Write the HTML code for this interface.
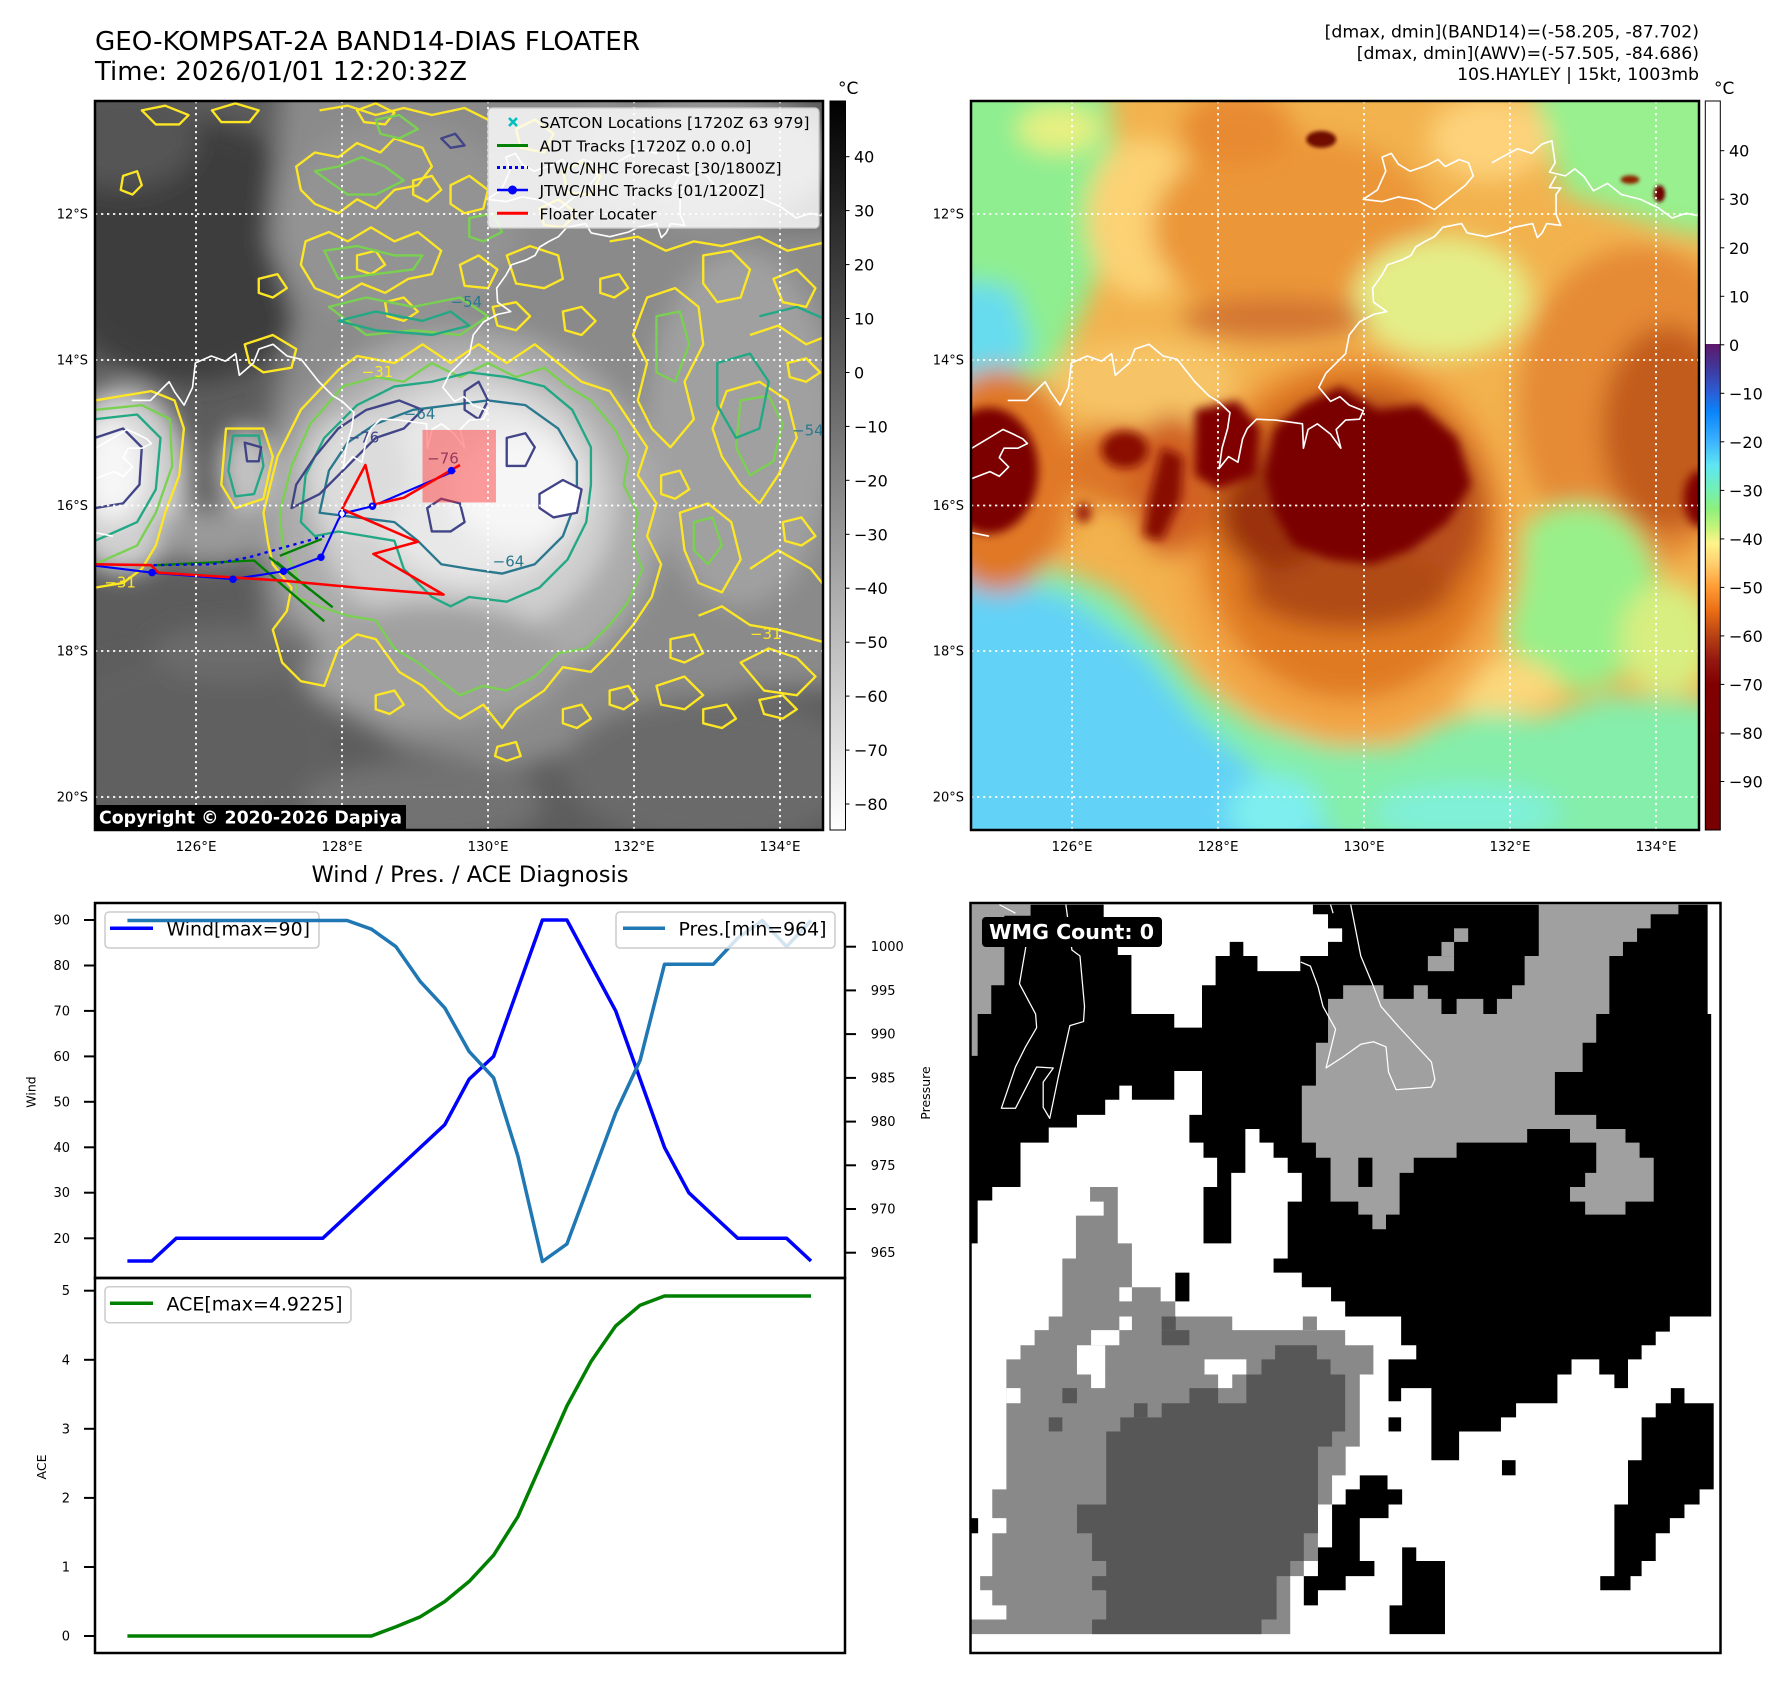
<!DOCTYPE html>
<html><head><meta charset="utf-8"><style>html,body{margin:0;padding:0;background:#fff}svg{display:block}</style></head>
<body>
<svg xmlns="http://www.w3.org/2000/svg" width="1788" height="1690" viewBox="0 0 1788 1690" font-family="'DejaVu Sans','Liberation Sans',sans-serif">
<defs>
<linearGradient id="cbL" x1="0" y1="0" x2="0" y2="1"><stop offset="0" stop-color="#000"/><stop offset="1" stop-color="#fff"/></linearGradient>
<linearGradient id="cbR" x1="0" y1="0" x2="0" y2="1">
<stop offset="0" stop-color="#ffffff"/><stop offset="0.3332" stop-color="#ffffff"/>
<stop offset="0.3334" stop-color="#5e176c"/><stop offset="0.3667" stop-color="#40389c"/>
<stop offset="0.4" stop-color="#2a5ed6"/><stop offset="0.4267" stop-color="#0a84fa"/>
<stop offset="0.4667" stop-color="#3cb2ff"/><stop offset="0.5" stop-color="#5ee6f2"/>
<stop offset="0.5333" stop-color="#72f0b4"/><stop offset="0.56" stop-color="#8ef07c"/>
<stop offset="0.5867" stop-color="#c8f47a"/><stop offset="0.6067" stop-color="#fff48a"/>
<stop offset="0.6333" stop-color="#ffd070"/><stop offset="0.6667" stop-color="#ff9c34"/>
<stop offset="0.7" stop-color="#ea6c14"/><stop offset="0.7333" stop-color="#b84214"/>
<stop offset="0.7667" stop-color="#941810"/><stop offset="0.8" stop-color="#800000"/>
<stop offset="1" stop-color="#780000"/>
</linearGradient>
<filter id="b1" x="-30%" y="-30%" width="160%" height="160%"><feGaussianBlur stdDeviation="26"/></filter>
<filter id="b2" x="-30%" y="-30%" width="160%" height="160%"><feGaussianBlur stdDeviation="10"/></filter>
<filter id="b3" x="-50%" y="-50%" width="200%" height="200%"><feGaussianBlur stdDeviation="4"/></filter>
<g id="coast" fill="none" stroke="#fff" stroke-width="3.5" stroke-linejoin="round">
<path d="M830,210 L860,190 L878,150 L870,120 L890,112 L905,135 L930,150 L965,138 L990,125 L1005,140 L1035,125 L1055,132 L1065,160 L1048,180 L1010,210 L982,232 L945,212 L905,205 L870,215 Z"/>
<path d="M1105,132 L1130,118 L1160,102 L1190,112 L1212,92 L1233,85 L1240,132 L1228,152 L1262,160 L1282,145 L1302,162 L1322,192 L1352,176 L1382,200 L1422,210 L1460,228 L1490,250 L1520,240 L1570,250"/>
<path d="M70,640 L110,640 L150,600 L162,622 L182,650 L200,612 L206,560 L240,545 L270,556 L292,540 L300,586 L330,560 L342,530 L372,520 L402,545 L432,552 L470,600 L500,630 L520,642 L545,666 L540,700 L528,742 L522,785 L542,760 L562,772 L572,722 L582,700 L602,680 L642,682 L700,690 L702,742 L712,702 L732,690 L760,712 L782,742 L772,702 L792,682 L822,680 L830,662 L800,650 L780,632 L760,642 L735,612 L750,582 L772,560 L792,540 L800,500 L822,472 L852,456 L880,450 L852,430 L850,400 L870,372 L882,350 L912,340 L932,330 L942,312 L962,300 L982,290 L1000,270 L1040,262 L1052,282 L1092,290 L1132,280 L1152,270 L1192,262 L1202,292 L1212,282 L1222,262 L1252,266 L1242,242 L1242,200 L1252,186 L1228,185 L1242,160"/>
<path d="M-20,750 L30,720 L60,702 L82,712 L102,722 L112,732 L92,742 L62,742 L52,762 L72,782 L52,802 L32,792 L-20,812"/>
<path d="M-20,920 L30,930"/>
</g>
</defs>
<rect width="1788" height="1690" fill="#fff"/>

<!-- Titles -->
<text x="95" y="50" font-size="25.7" textLength="545" lengthAdjust="spacingAndGlyphs">GEO-KOMPSAT-2A BAND14-DIAS FLOATER</text>
<text x="95" y="80" font-size="25.7" textLength="372" lengthAdjust="spacingAndGlyphs">Time: 2026/01/01 12:20:32Z</text>
<text x="1699" y="37.5" font-size="17.3" text-anchor="end">[dmax, dmin](BAND14)=(-58.205, -87.702)</text>
<text x="1699" y="59" font-size="17.3" text-anchor="end">[dmax, dmin](AWV)=(-57.505, -84.686)</text>
<text x="1699" y="80" font-size="17.3" text-anchor="end">10S.HAYLEY | 15kt, 1003mb</text>

<!-- LEFT MAP -->
<svg x="95" y="101" width="728" height="729" viewBox="0 0 1556 1558" preserveAspectRatio="none">
<rect x="-60" y="-60" width="1700" height="1700" fill="#5c5c5c"/>
<g filter="url(#b1)">
<ellipse cx="200" cy="320" rx="300" ry="280" fill="#3e3e3e"/>
<ellipse cx="60" cy="80" rx="160" ry="110" fill="#555"/>
<path d="M400,-60 L1120,-60 L1160,260 L1640,260 L1640,1250 L1380,1260 L1150,1340 L900,1430 L650,1380 L470,1270 L370,1120 L340,900 L380,640 L430,460 L370,300 L390,80 Z" fill="#8a8a8a"/>
<ellipse cx="650" cy="260" rx="260" ry="220" fill="#939393"/>
<ellipse cx="1380" cy="700" rx="200" ry="380" fill="#a0a0a0"/>
<ellipse cx="1300" cy="120" rx="280" ry="140" fill="#9c9c9c"/>
<ellipse cx="790" cy="880" rx="420" ry="390" fill="#ababab"/>
<ellipse cx="790" cy="860" rx="320" ry="290" fill="#cfcfcf"/>
<ellipse cx="810" cy="830" rx="230" ry="200" fill="#e8e8e8"/>
<ellipse cx="900" cy="830" rx="140" ry="120" fill="#f6f6f6"/>
<ellipse cx="560" cy="800" rx="110" ry="130" fill="#dcdcdc"/>
<ellipse cx="720" cy="1200" rx="280" ry="130" fill="#a0a0a0"/>
<ellipse cx="60" cy="810" rx="140" ry="200" fill="#cfcfcf"/>
<ellipse cx="40" cy="790" rx="70" ry="110" fill="#f6f6f6"/>
<ellipse cx="320" cy="790" rx="55" ry="95" fill="#c2c2c2"/>
<ellipse cx="250" cy="930" rx="120" ry="60" fill="#9a9a9a"/>
<ellipse cx="200" cy="1380" rx="320" ry="200" fill="#606060"/>
<ellipse cx="1320" cy="1430" rx="320" ry="160" fill="#6a6a6a"/>
<ellipse cx="700" cy="1500" rx="260" ry="90" fill="#727272"/>
<ellipse cx="300" cy="1180" rx="180" ry="60" fill="#6c6c6c"/>
</g>
<!-- contours -->
<g fill="none" stroke-width="5" stroke-linejoin="round">
<g stroke="#fde725">
<path d="M370,945 L360,880 L390,760 L440,660 L520,575 L560,545 L640,560 L700,520 L760,560 L820,520 L880,560 L940,520 L990,560 L1040,600 L1100,620 L1140,680 L1180,740 L1160,800 L1200,860 L1180,930 L1210,990 L1190,1060 L1150,1120 L1100,1180 L1060,1220 L1000,1210 L960,1260 L900,1300 L870,1340 L830,1290 L780,1320 L750,1300 L700,1250 L650,1220 L600,1150 L560,1140 L520,1170 L490,1250 L440,1240 L400,1200 L380,1130 L410,1090 L420,1040 L380,990 Z"/>
<path d="M430,140 L470,110 L520,120 L560,90 L610,110 L640,80 L700,100 L720,140 L690,180 L640,190 L600,230 L560,210 L520,240 L470,220 L440,190 Z"/>
<path d="M450,300 L500,280 L540,300 L590,270 L640,300 L690,280 L740,320 L720,370 L670,380 L620,410 L570,390 L520,420 L470,400 L440,350 Z"/>
<path d="M760,180 L800,160 L840,190 L830,230 L790,240 L760,220 Z"/>
<path d="M880,330 L930,310 L990,330 L1000,380 L960,400 L900,390 Z"/>
<path d="M1180,420 L1240,400 L1290,440 L1300,520 L1260,600 L1280,680 L1230,740 L1190,700 L1160,640 L1180,560 L1150,500 Z"/>
<path d="M1300,330 L1360,320 L1400,360 L1380,420 L1330,430 L1300,390 Z"/>
<path d="M1400,500 L1460,480 L1520,520 L1570,500"/>
<path d="M1350,620 L1420,600 L1480,640 L1500,720 L1460,800 L1420,860 L1380,820 L1340,760 L1320,700 Z"/>
<path d="M1250,880 L1310,860 L1360,900 L1380,980 L1340,1050 L1290,1030 L1260,960 Z"/>
<path d="M1400,1000 L1460,960 L1530,1000 L1570,1050"/>
<path d="M1380,1200 L1440,1170 L1500,1190 L1540,1230 L1500,1270 L1430,1260 Z"/>
<path d="M1200,1250 L1260,1230 L1300,1270 L1260,1300 L1210,1290 Z"/>
<path d="M60,160 L90,150 L100,180 L80,200 L55,190 Z"/>
<path d="M320,520 L380,500 L430,530 L420,570 L360,580 L330,560 Z"/>
<path d="M100,20 L150,10 L200,30 L180,50 L130,50 Z"/>
<path d="M1100,300 L1160,290 L1220,320 L1280,300 L1340,310 L1420,290 L1480,320 L1570,300"/>
<path d="M0,640 L60,630 L120,620 L170,640 L190,700 L180,800 L150,880 L130,950 L100,1000 L60,1030 L0,1040"/>
<path d="M280,700 L360,700 L380,760 L360,850 L300,870 L270,820 Z"/>
<path d="M480,20 L540,10 L600,30 L660,15 L720,30 L790,15 L840,40"/>
<path d="M1290,1100 L1340,1080 L1400,1120 L1460,1130 L1570,1160"/>
<path d="M560,20 L600,5 L640,25 L620,50 L575,45 Z"/>
<path d="M250,20 L300,5 L350,20 L330,45 L270,45 Z"/>
<path d="M680,170 L720,160 L740,190 L710,215 L680,200 Z"/>
<path d="M900,60 L940,40 L980,70 L960,110 L910,100 Z"/>
<path d="M1000,150 L1040,130 L1080,160 L1060,200 L1010,195 Z"/>
<path d="M950,230 L990,210 L1030,240 L1000,270 L960,265 Z"/>
<path d="M560,330 L600,320 L620,350 L590,370 L560,360 Z"/>
<path d="M780,350 L820,330 L860,360 L840,400 L790,395 Z"/>
<path d="M1000,450 L1040,440 L1070,470 L1040,500 L1005,490 Z"/>
<path d="M350,380 L390,370 L410,400 L380,420 L350,410 Z"/>
<path d="M1450,380 L1500,360 L1540,400 L1520,440 L1470,430 Z"/>
<path d="M1230,1150 L1280,1140 L1300,1180 L1260,1200 L1230,1190 Z"/>
<path d="M1000,1300 L1040,1290 L1060,1320 L1030,1340 L1000,1330 Z"/>
<path d="M1100,1260 L1140,1250 L1160,1280 L1130,1300 L1100,1290 Z"/>
<path d="M600,1270 L640,1260 L660,1290 L630,1310 L600,1300 Z"/>
<path d="M860,1380 L900,1370 L910,1400 L880,1410 L855,1400 Z"/>
<path d="M1300,1300 L1350,1290 L1370,1320 L1340,1340 L1300,1330 Z"/>
<path d="M1420,1280 L1470,1270 L1500,1300 L1470,1320 L1430,1310 Z"/>
<path d="M620,430 L660,420 L690,450 L660,470 L625,460 Z"/>
<path d="M850,440 L900,430 L930,460 L900,490 L860,480 Z"/>
<path d="M1080,380 L1120,370 L1140,400 L1110,420 L1080,410 Z"/>
<path d="M1480,560 L1520,550 L1550,580 L1520,600 L1485,590 Z"/>
<path d="M1210,800 L1250,790 L1270,830 L1240,850 L1210,840 Z"/>
<path d="M1470,900 L1510,890 L1540,930 L1510,950 L1475,940 Z"/>
</g>
<g stroke="#7ad151">
<path d="M400,940 L395,880 L420,780 L460,690 L530,610 L600,590 L660,600 L720,560 L780,590 L840,560 L900,590 L960,570 L1010,610 L1060,640 L1110,700 L1140,760 L1130,820 L1160,880 L1150,950 L1170,1000 L1140,1070 L1100,1120 L1050,1170 L990,1180 L940,1230 L880,1260 L830,1250 L780,1270 L740,1240 L690,1200 L640,1170 L600,1110 L540,1100 L480,1080 L430,1060 L430,1010 L410,970 Z"/>
<path d="M470,150 L520,140 L570,120 L620,140 L660,170 L600,200 L540,200 Z"/>
<path d="M490,320 L560,310 L640,330 L700,330 L680,360 L600,370 L520,380 Z"/>
<path d="M500,440 L580,420 L680,440 L780,420 L840,460 L780,500 L680,490 L580,500 Z"/>
<path d="M0,660 L100,650 L160,680 L165,780 L130,880 L90,950 L0,990"/>
<path d="M1380,640 L1440,630 L1470,690 L1450,770 L1400,800 L1370,740 Z"/>
<path d="M1200,460 L1250,450 L1270,520 L1240,600 L1200,580 Z"/>
<path d="M600,40 L650,30 L690,60 L650,80 L610,70 Z"/>
<path d="M800,250 L850,240 L870,280 L830,300 L800,290 Z"/>
<path d="M1280,900 L1320,890 L1340,950 L1310,990 L1280,960 Z"/>
</g>
<g stroke="#22a884">
<path d="M440,900 L450,800 L490,720 L560,650 L640,610 L720,600 L800,580 L880,590 L960,610 L1020,660 L1060,740 L1060,820 L1050,900 L1010,980 L950,1040 L880,1070 L800,1060 L760,1080 L720,1060 L660,1000 L640,940 L580,930 L520,920 L470,930 Z"/>
<path d="M0,680 L90,670 L140,720 L130,830 L90,900 L0,940"/>
<path d="M295,715 L350,715 L360,780 L340,840 L300,845 L285,790 Z"/>
<path d="M1330,560 L1400,540 L1440,600 L1420,700 L1370,720 L1330,650 Z"/>
<path d="M1420,460 L1500,440 L1570,470"/>
<path d="M520,470 L600,450 L700,470 L760,450 L800,480 L720,500 L600,490 Z"/>
</g>
<g stroke="#2a788e">
<path d="M480,880 L500,790 L540,730 L600,690 L680,660 L760,650 L840,640 L920,650 L990,700 L1030,770 L1030,850 L1000,930 L940,990 L870,1010 L800,1000 L740,990 L690,940 L640,900 L560,890 Z"/>
</g>
<g stroke="#414487">
<path d="M420,870 L430,820 L470,760 L520,700 L580,660 L650,640 L700,660 L660,700 L600,720 L560,760 L520,800 L480,840 Z"/>
<path d="M710,870 L740,850 L780,860 L790,900 L760,920 L720,920 Z"/>
<path d="M880,720 L920,710 L940,740 L920,780 L880,780 Z"/>
<path d="M950,840 L1000,810 L1040,830 L1030,880 L980,890 L950,870 Z" fill="#fff"/>
<path d="M790,620 L820,600 L840,640 L820,680 L790,660 Z"/>
<path d="M0,720 L60,700 L100,740 L95,820 L60,860 L0,870"/>
<path d="M320,730 L355,740 L350,770 L325,770 Z"/>
<path d="M740,80 L770,70 L790,95 L760,100 Z"/>
</g>
</g>
<g font-size="32" fill="#fde725"><text x="570" y="590">−31</text><text x="1400" y="1150">−31</text><text x="20" y="1040">−31</text></g>
<g font-size="32" fill="#2a788e"><text x="660" y="680">−64</text><text x="850" y="995">−64</text><text x="1490" y="715">−54</text><text x="760" y="440">−54</text></g>
<g font-size="32" fill="#414487"><text x="540" y="730">−76</text><text x="710" y="775">−76</text></g>
<use href="#coast" transform="translate(8.5,0)"/>
<rect x="700" y="703" width="157" height="155" fill="#ff2a2a" fill-opacity="0.45"/>
<!-- tracks -->
<g fill="none" stroke-linejoin="round">
<polyline points="130,992 340,982 490,1112" stroke="#008000" stroke-width="5"/>
<polyline points="372,975 508,1082" stroke="#008000" stroke-width="5"/>
<polyline points="395,972 485,936" stroke="#008000" stroke-width="5"/>
<polyline points="388,985 460,1045" stroke="#008000" stroke-width="5"/>
<polyline points="125,992 250,990 330,975 400,955 490,930" stroke="#0000ff" stroke-width="5" stroke-dasharray="7 9"/>
<polyline points="0,993 122,1008 295,1022 403,1005 483,975 520,895 528,882 593,866 770,790" stroke="#0000ff" stroke-width="4.5"/>
<polyline points="0,990 120,992 135,1008 400,1025 560,1040 745,1055 595,968 690,942 528,872 578,778 598,862 660,848 780,778" stroke="#ff0000" stroke-width="5.5"/>
</g>
<g fill="#0000ff"><circle cx="122" cy="1008" r="8"/><circle cx="295" cy="1022" r="8"/><circle cx="403" cy="1005" r="8"/><circle cx="483" cy="975" r="8"/><circle cx="528" cy="882" r="7" fill="#fff" stroke="#0000ff" stroke-width="3"/><circle cx="593" cy="866" r="8"/><circle cx="762" cy="790" r="8"/></g>
</svg>

<!-- Left map gridlines -->
<g stroke="#fff" stroke-width="1.8" stroke-dasharray="2.3 3.7">
<line x1="196" y1="101" x2="196" y2="830"/><line x1="342" y1="101" x2="342" y2="830"/><line x1="488" y1="101" x2="488" y2="830"/><line x1="634" y1="101" x2="634" y2="830"/><line x1="780" y1="101" x2="780" y2="830"/>
<line x1="95" y1="214" x2="823" y2="214"/><line x1="95" y1="360" x2="823" y2="360"/><line x1="95" y1="505.5" x2="823" y2="505.5"/><line x1="95" y1="651" x2="823" y2="651"/><line x1="95" y1="797" x2="823" y2="797"/>
</g>
<!-- legend -->
<rect x="488" y="108" width="331" height="120" rx="4" fill="#fff" fill-opacity="0.82" stroke="#cccccc" stroke-width="1.2"/>
<g stroke="#00bfbf" stroke-width="2.6"><line x1="509" y1="118" x2="517" y2="126"/><line x1="517" y1="118" x2="509" y2="126"/></g>
<line x1="497" y1="145.5" x2="528" y2="145.5" stroke="#008000" stroke-width="3"/>
<line x1="497" y1="167.5" x2="528" y2="167.5" stroke="#0000ff" stroke-width="3" stroke-dasharray="3 3"/>
<line x1="497" y1="190" x2="528" y2="190" stroke="#0000ff" stroke-width="2.5"/><circle cx="512.5" cy="190" r="4.5" fill="#0000ff"/>
<line x1="497" y1="213.3" x2="528" y2="213.3" stroke="#ff0000" stroke-width="3"/>
<g font-size="15.5">
<text x="539.5" y="128" textLength="270" lengthAdjust="spacingAndGlyphs">SATCON Locations [1720Z 63 979]</text>
<text x="539.5" y="151.5">ADT Tracks [1720Z 0.0 0.0]</text>
<text x="539.5" y="173.5">JTWC/NHC Forecast [30/1800Z]</text>
<text x="539.5" y="196">JTWC/NHC Tracks [01/1200Z]</text>
<text x="539.5" y="219.5">Floater Locater</text>
</g>
<!-- copyright -->
<rect x="95" y="805" width="311" height="25" fill="#000"/>
<text x="99" y="823.5" font-size="17.4" font-weight="bold" fill="#fff" textLength="303" lengthAdjust="spacingAndGlyphs">Copyright © 2020-2026 Dapiya</text>
<rect x="95" y="101" width="728" height="729" fill="none" stroke="#000" stroke-width="2.5"/>

<!-- left colorbar -->
<rect x="830" y="101" width="15.5" height="729" fill="url(#cbL)" stroke="#000" stroke-width="1"/>
<text x="838" y="94" font-size="17">°C</text>
<g stroke="#000" stroke-width="1"><line x1="845.5" y1="156.7" x2="849.5" y2="156.7"/><line x1="845.5" y1="210.6" x2="849.5" y2="210.6"/><line x1="845.5" y1="264.6" x2="849.5" y2="264.6"/><line x1="845.5" y1="318.5" x2="849.5" y2="318.5"/><line x1="845.5" y1="372.5" x2="849.5" y2="372.5"/><line x1="845.5" y1="426.4" x2="849.5" y2="426.4"/><line x1="845.5" y1="480.3" x2="849.5" y2="480.3"/><line x1="845.5" y1="534.3" x2="849.5" y2="534.3"/><line x1="845.5" y1="588.2" x2="849.5" y2="588.2"/><line x1="845.5" y1="642.2" x2="849.5" y2="642.2"/><line x1="845.5" y1="696.1" x2="849.5" y2="696.1"/><line x1="845.5" y1="750.1" x2="849.5" y2="750.1"/><line x1="845.5" y1="804" x2="849.5" y2="804"/></g>
<g font-size="16">
<text x="854" y="162.7">40</text><text x="854" y="216.6">30</text><text x="854" y="270.6">20</text><text x="854" y="324.5">10</text><text x="854" y="378.5">0</text><text x="854" y="432.4">−10</text><text x="854" y="486.3">−20</text><text x="854" y="540.3">−30</text><text x="854" y="594.2">−40</text><text x="854" y="648.2">−50</text><text x="854" y="702.1">−60</text><text x="854" y="756.1">−70</text><text x="854" y="810">−80</text>
</g>

<!-- RIGHT MAP -->
<svg x="971" y="101" width="728" height="729" viewBox="-8.5 0 1556 1558" preserveAspectRatio="none">
<rect x="-60" y="-60" width="1700" height="1700" fill="#f2b24e"/>
<g filter="url(#b1)">
<path d="M-60,-60 L280,-60 L300,100 L240,240 L280,330 L230,450 L180,560 L100,630 L-60,660 Z" fill="#8eee90"/>
<ellipse cx="180" cy="60" rx="90" ry="50" fill="#e8f080"/>
<path d="M-60,380 L80,400 L120,520 L60,640 L-60,660 Z" fill="#66dcee"/>
<ellipse cx="360" cy="250" rx="120" ry="170" fill="#fcd274"/>
<ellipse cx="680" cy="270" rx="300" ry="200" fill="#eb9638"/>
<ellipse cx="560" cy="60" rx="120" ry="80" fill="#e88a32"/>
<path d="M1180,-60 L1640,-60 L1640,300 L1500,280 L1380,240 L1260,200 L1220,80 Z" fill="#98f08e"/>
<ellipse cx="1100" cy="80" rx="130" ry="90" fill="#fdd27a"/>
<ellipse cx="1000" cy="420" rx="190" ry="130" fill="#e4ee88"/>
<ellipse cx="360" cy="600" rx="200" ry="90" fill="#f6c466"/>
<ellipse cx="640" cy="465" rx="200" ry="45" fill="#d27430"/>
<ellipse cx="1420" cy="650" rx="260" ry="340" fill="#e58a34"/>
<ellipse cx="1480" cy="700" rx="140" ry="220" fill="#c25c1c"/>
<path d="M-60,960 L150,990 L300,1050 L400,1150 L480,1250 L600,1330 L760,1380 L900,1380 L1000,1330 L1100,1300 L1200,1320 L1350,1270 L1640,1290 L1640,1640 L-60,1640 Z" fill="#84eeaa"/>
<path d="M-60,990 L200,1060 L360,1180 L470,1320 L600,1430 L720,1520 L800,1640 L-60,1640 Z" fill="#62d2f6"/>
<ellipse cx="640" cy="1520" rx="100" ry="80" fill="#7eeeee"/>
<ellipse cx="1050" cy="1520" rx="200" ry="60" fill="#80f0d8"/>
<ellipse cx="1290" cy="1060" rx="170" ry="200" fill="#98f08a"/>
<ellipse cx="1480" cy="1150" rx="100" ry="120" fill="#d8ee80"/>
<ellipse cx="1120" cy="1250" rx="130" ry="60" fill="#fbd87c"/>
<ellipse cx="800" cy="950" rx="370" ry="420" fill="#f2a444"/>
<ellipse cx="800" cy="920" rx="320" ry="360" fill="#e07a24"/>
<ellipse cx="820" cy="870" rx="270" ry="250" fill="#b8501a"/>
<ellipse cx="800" cy="1040" rx="220" ry="90" fill="#b04c18"/>
<ellipse cx="640" cy="880" rx="120" ry="120" fill="#9a3010"/>
<ellipse cx="50" cy="810" rx="160" ry="240" fill="#e07828"/>
<ellipse cx="300" cy="780" rx="100" ry="90" fill="#dc7426"/>
<ellipse cx="420" cy="820" rx="90" ry="150" fill="#d06020"/>
</g>
<g filter="url(#b2)">
<path d="M640,700 L700,650 L780,610 L860,660 L950,650 L1030,720 L1060,820 L1010,900 L930,960 L850,990 L760,980 L680,950 L640,880 L620,800 Z" fill="#7a0000"/>
<path d="M470,660 L560,640 L610,700 L600,800 L520,830 L470,800 Z" fill="#800000"/>
<path d="M400,740 L445,760 L440,850 L400,940 L360,930 L372,850 Z" fill="#880800"/>
<ellipse cx="30" cy="790" rx="105" ry="135" fill="#7c0000"/>
<ellipse cx="320" cy="745" rx="50" ry="40" fill="#8a0a00"/>
<ellipse cx="232" cy="880" rx="18" ry="22" fill="#a02808"/>
<ellipse cx="1550" cy="850" rx="35" ry="60" fill="#800000"/>
</g>
<g filter="url(#b3)">
<ellipse cx="740" cy="82" rx="32" ry="18" fill="#700800"/>
<ellipse cx="1400" cy="168" rx="20" ry="9" fill="#902000"/>
<ellipse cx="1463" cy="198" rx="12" ry="18" fill="#700000"/>
</g>
<use href="#coast"/>
</svg>
<g stroke="#fff" stroke-width="1.8" stroke-dasharray="2.3 3.7">
<line x1="1072" y1="101" x2="1072" y2="830"/><line x1="1218" y1="101" x2="1218" y2="830"/><line x1="1364" y1="101" x2="1364" y2="830"/><line x1="1510" y1="101" x2="1510" y2="830"/><line x1="1656" y1="101" x2="1656" y2="830"/>
<line x1="971" y1="214" x2="1699" y2="214"/><line x1="971" y1="360" x2="1699" y2="360"/><line x1="971" y1="505.5" x2="1699" y2="505.5"/><line x1="971" y1="651" x2="1699" y2="651"/><line x1="971" y1="797" x2="1699" y2="797"/>
</g>
<rect x="971" y="101" width="728" height="729" fill="none" stroke="#000" stroke-width="2.5"/>

<!-- right colorbar -->
<rect x="1705.3" y="101" width="15" height="729" fill="url(#cbR)" stroke="#000" stroke-width="1"/>
<text x="1714" y="94" font-size="17">°C</text>
<g stroke="#000" stroke-width="1"><line x1="1720.3" y1="150.7" x2="1724.3" y2="150.7"/><line x1="1720.3" y1="199.2" x2="1724.3" y2="199.2"/><line x1="1720.3" y1="247.8" x2="1724.3" y2="247.8"/><line x1="1720.3" y1="296.3" x2="1724.3" y2="296.3"/><line x1="1720.3" y1="344.8" x2="1724.3" y2="344.8"/><line x1="1720.3" y1="393.3" x2="1724.3" y2="393.3"/><line x1="1720.3" y1="441.8" x2="1724.3" y2="441.8"/><line x1="1720.3" y1="490.4" x2="1724.3" y2="490.4"/><line x1="1720.3" y1="538.9" x2="1724.3" y2="538.9"/><line x1="1720.3" y1="587.4" x2="1724.3" y2="587.4"/><line x1="1720.3" y1="635.9" x2="1724.3" y2="635.9"/><line x1="1720.3" y1="684.4" x2="1724.3" y2="684.4"/><line x1="1720.3" y1="733" x2="1724.3" y2="733"/><line x1="1720.3" y1="781.5" x2="1724.3" y2="781.5"/></g>
<g font-size="16">
<text x="1729" y="156.7">40</text><text x="1729" y="205.2">30</text><text x="1729" y="253.8">20</text><text x="1729" y="302.3">10</text><text x="1729" y="350.8">0</text><text x="1729" y="399.3">−10</text><text x="1729" y="447.8">−20</text><text x="1729" y="496.4">−30</text><text x="1729" y="544.9">−40</text><text x="1729" y="593.4">−50</text><text x="1729" y="641.9">−60</text><text x="1729" y="690.4">−70</text><text x="1729" y="739">−80</text><text x="1729" y="787.5">−90</text>
</g>

<!-- map tick labels -->
<g font-size="13" text-anchor="end">
<text x="88" y="218.7">12°S</text><text x="88" y="364.7">14°S</text><text x="88" y="510.2">16°S</text><text x="88" y="655.7">18°S</text><text x="88" y="801.7">20°S</text>
<text x="964" y="218.7">12°S</text><text x="964" y="364.7">14°S</text><text x="964" y="510.2">16°S</text><text x="964" y="655.7">18°S</text><text x="964" y="801.7">20°S</text>
</g>
<g font-size="13.5" text-anchor="middle">
<text x="196" y="851">126°E</text><text x="342" y="851">128°E</text><text x="488" y="851">130°E</text><text x="634" y="851">132°E</text><text x="780" y="851">134°E</text>
<text x="1072" y="851">126°E</text><text x="1218" y="851">128°E</text><text x="1364" y="851">130°E</text><text x="1510" y="851">132°E</text><text x="1656" y="851">134°E</text>
</g>

<!-- BOTTOM LEFT CHARTS -->
<text x="311.5" y="882" font-size="22" textLength="317" lengthAdjust="spacingAndGlyphs">Wind / Pres. / ACE Diagnosis</text>
<polyline fill="none" stroke="#0000ff" stroke-width="3.5" stroke-linejoin="round" points="127.4,1261 151.8,1261 176.2,1238.3 200.6,1238.3 225.1,1238.3 249.5,1238.3 273.9,1238.3 298.3,1238.3 322.7,1238.3 347.1,1215.6 371.5,1192.8 396,1170.1 420.4,1147.4 444.8,1124.6 469.2,1079.1 493.6,1056.4 518,988.2 542.4,920 566.9,920 591.3,965.5 615.7,1010.9 640.1,1079.1 664.5,1147.4 688.9,1192.8 713.3,1215.6 737.8,1238.3 762.2,1238.3 786.6,1238.3 811,1261"/>
<rect x="105" y="912" width="214" height="36" rx="4" fill="#fff" fill-opacity="0.8" stroke="#cccccc" stroke-width="1.5"/>
<line x1="110" y1="928.3" x2="153" y2="928.3" stroke="#0000ff" stroke-width="3.5"/>
<text x="166.5" y="935.7" font-size="18.7" textLength="143.5" lengthAdjust="spacingAndGlyphs">Wind[max=90]</text>
<polyline fill="none" stroke="#1f77b4" stroke-width="3.5" stroke-linejoin="round" points="127.4,920.5 151.8,920.5 176.2,920.5 200.6,920.5 225.1,920.5 249.5,920.5 273.9,920.5 298.3,920.5 322.7,920.5 347.1,920.5 371.5,929.2 396,946.7 420.4,981.7 444.8,1007.9 469.2,1051.6 493.6,1077.8 518,1156.5 542.4,1261.5 566.9,1244 591.3,1178.4 615.7,1112.8 640.1,1060.4 664.5,964.2 688.9,964.2 713.3,964.2 737.8,938 762.2,920.5 786.6,946.7 811,920.5"/>
<rect x="616" y="912" width="219" height="36" rx="4" fill="#fff" fill-opacity="0.8" stroke="#cccccc" stroke-width="1.5"/>
<line x1="623" y1="928.3" x2="665" y2="928.3" stroke="#1f77b4" stroke-width="3.5"/>
<text x="678.5" y="935.7" font-size="18.7" textLength="148" lengthAdjust="spacingAndGlyphs">Pres.[min=964]</text>
<rect x="95" y="903" width="750" height="375" fill="none" stroke="#000" stroke-width="2.5"/>
<!-- ticks -->
<g stroke="#000" stroke-width="2"><line x1="84" y1="920" x2="95" y2="920"/><line x1="84" y1="965.5" x2="95" y2="965.5"/><line x1="84" y1="1010.9" x2="95" y2="1010.9"/><line x1="84" y1="1056.4" x2="95" y2="1056.4"/><line x1="84" y1="1101.8" x2="95" y2="1101.8"/><line x1="84" y1="1147.3" x2="95" y2="1147.3"/><line x1="84" y1="1192.7" x2="95" y2="1192.7"/><line x1="84" y1="1238.3" x2="95" y2="1238.3"/>
<line x1="845" y1="946.7" x2="856" y2="946.7"/><line x1="845" y1="990.4" x2="856" y2="990.4"/><line x1="845" y1="1034.1" x2="856" y2="1034.1"/><line x1="845" y1="1077.9" x2="856" y2="1077.9"/><line x1="845" y1="1121.6" x2="856" y2="1121.6"/><line x1="845" y1="1165.3" x2="856" y2="1165.3"/><line x1="845" y1="1209" x2="856" y2="1209"/><line x1="845" y1="1252.7" x2="856" y2="1252.7"/>
<line x1="84" y1="1636" x2="95" y2="1636"/><line x1="84" y1="1567" x2="95" y2="1567"/><line x1="84" y1="1497.9" x2="95" y2="1497.9"/><line x1="84" y1="1428.8" x2="95" y2="1428.8"/><line x1="84" y1="1359.8" x2="95" y2="1359.8"/><line x1="84" y1="1290.7" x2="95" y2="1290.7"/></g>
<g font-size="13" text-anchor="end">
<text x="70" y="924.5">90</text><text x="70" y="970">80</text><text x="70" y="1015.4">70</text><text x="70" y="1060.9">60</text><text x="70" y="1106.3">50</text><text x="70" y="1151.8">40</text><text x="70" y="1197.2">30</text><text x="70" y="1242.8">20</text>
<text x="70" y="1640.5">0</text><text x="70" y="1571.5">1</text><text x="70" y="1502.4">2</text><text x="70" y="1433.3">3</text><text x="70" y="1364.3">4</text><text x="70" y="1295.2">5</text>
</g>
<g font-size="13">
<text x="870.7" y="951.2">1000</text><text x="870.7" y="994.9">995</text><text x="870.7" y="1038.6">990</text><text x="870.7" y="1082.4">985</text><text x="870.7" y="1126.1">980</text><text x="870.7" y="1169.8">975</text><text x="870.7" y="1213.5">970</text><text x="870.7" y="1257.2">965</text>
</g>
<g font-size="12.5" text-anchor="middle">
<text transform="translate(35.5,1092) rotate(-90)">Wind</text>
<text transform="translate(930,1093) rotate(-90)">Pressure</text>
<text transform="translate(46,1467) rotate(-90)">ACE</text>
</g>
<!-- ACE -->
<polyline fill="none" stroke="#008000" stroke-width="3.5" stroke-linejoin="round" points="127.4,1636 151.8,1636 176.2,1636 200.6,1636 225.1,1636 249.5,1636 273.9,1636 298.3,1636 322.7,1636 347.1,1636 371.5,1636 396,1626.7 420.4,1616.7 444.8,1601.5 469.2,1581.4 493.6,1555.2 518,1516.5 542.4,1461.3 566.9,1406 591.3,1361.1 615.7,1325.9 640.1,1305.2 664.5,1296 688.9,1296 713.3,1296 737.8,1296 762.2,1296 786.6,1296 811,1296"/>
<rect x="105" y="1286.7" width="246" height="36" rx="4" fill="#fff" fill-opacity="0.8" stroke="#cccccc" stroke-width="1.5"/>
<line x1="110" y1="1303.3" x2="153" y2="1303.3" stroke="#008000" stroke-width="3.5"/>
<text x="166.5" y="1310.7" font-size="18.7" textLength="176" lengthAdjust="spacingAndGlyphs">ACE[max=4.9225]</text>
<rect x="95" y="1278" width="750" height="375" fill="none" stroke="#000" stroke-width="2.5"/>

<!-- WMG PANEL -->
<svg x="960" y="890" width="790" height="790" viewBox="0 -1 1567 1567" preserveAspectRatio="none">
<path fill="#000" d="M20,28 L1483,28 L1483,245 L1490,245 L1490,845 L1408,845 L1408,875 L1380,875 L1380,902 L1352,902 L1352,930 L1325,930 L1325,987 L1298,987 L1298,960 L1268,960 L1268,930 L1213,930 L1213,960 L1185,960 L1185,1017 L1103,1017 L1103,1045 L1073,1045 L1073,1073 L990,1073 L990,1130 L935,1130 L935,987 L875,987 L875,1013 L850,1013 L850,930 L905,930 L905,902 L875,902 L875,845 L764,845 L764,815 L736,815 L736,787 L678,787 L678,758 L622,758 L622,730 L650,730 L650,617 L678,617 L678,560 L650,560 L650,530 L622,530 L622,500 L594,500 L594,473 L566,473 L566,560 L538,560 L538,700 L483,700 L483,588 L510,588 L510,530 L483,530 L483,500 L455,500 L455,445 L480,445 L480,358 L425,358 L425,415 L341,415 L341,387 L316,387 L316,415 L288,415 L288,445 L232,445 L232,470 L176,470 L176,500 L120,500 L120,588 L64,588 L64,615 L35,615 L35,700 L20,700 Z"/>
<path fill="#fff" d="M285,28 L700,28 L700,47 L730,47 L730,75 L758,75 L758,102 L730,102 L730,130 L675,130 L675,160 L590,160 L590,130 L562,130 L562,102 L535,102 L535,130 L507,130 L507,188 L480,188 L480,272 L425,272 L425,245 L340,245 L340,128 L313,128 L313,75 L285,75 Z"/>
<path fill="#a0a0a0" d="M20,28 L140,28 L140,50 L88,50 L88,188 L62,188 L62,245 L35,245 L35,328 L20,328 Z"/>
<path fill="#a0a0a0" d="M1148,28 L1425,28 L1425,47 L1370,47 L1370,75 L1343,75 L1343,102 L1315,102 L1315,130 L1288,130 L1288,245 L1262,245 L1262,302 L1235,302 L1235,360 L1180,360 L1180,445 L1262,445 L1262,473 L1320,473 L1320,500 L1348,500 L1348,530 L1376,530 L1376,617 L1320,617 L1320,643 L1240,643 L1240,617 L1210,617 L1210,588 L1240,588 L1240,560 L1262,560 L1262,500 L1210,500 L1210,473 L1125,473 L1125,500 L985,500 L985,530 L900,530 L900,560 L872,560 L872,643 L845,643 L845,672 L818,672 L818,643 L790,643 L790,617 L735,617 L735,530 L706,530 L706,500 L678,500 L678,387 L706,387 L706,302 L730,302 L730,215 L760,215 L760,188 L840,188 L840,215 L900,215 L900,188 L928,188 L928,215 L955,215 L955,245 L985,245 L985,215 L1038,215 L1038,245 L1065,245 L1065,215 L1095,215 L1095,188 L1120,188 L1120,130 L1148,130 Z"/>
<rect x="928" y="130" width="52" height="30" fill="#a0a0a0"/><rect x="955" y="102" width="25" height="28" fill="#a0a0a0"/><rect x="980" y="75" width="28" height="27" fill="#a0a0a0"/>
<rect x="790" y="530" width="28" height="58" fill="#000"/>
<path fill="#898989" d="M258,588 L313,588 L313,700 L341,700 L341,787 L398,787 L398,815 L427,815 L427,845 L540,845 L540,872 L764,872 L764,902 L820,902 L820,960 L793,960 L793,1103 L765,1103 L765,1160 L738,1160 L738,1218 L710,1218 L710,1330 L682,1330 L682,1360 L655,1360 L655,1475 L20,1475 L20,1446 L92,1446 L92,1418 L64,1418 L64,1388 L40,1388 L40,1360 L64,1360 L64,1275 L92,1275 L92,1245 L64,1245 L64,1188 L92,1188 L92,930 L120,930 L120,902 L148,902 L148,872 L176,872 L176,845 L203,845 L203,730 L230,730 L230,645 L285,645 L285,617 L258,617 Z"/>
<rect x="680" y="845" width="28" height="27" fill="#898989"/>
<g fill="#fff"><rect x="316" y="787" width="25" height="28"/><rect x="316" y="845" width="25" height="27"/><rect x="260" y="872" width="56" height="30"/><rect x="232" y="902" width="56" height="58"/><rect x="260" y="960" width="28" height="27"/><rect x="485" y="930" width="83" height="30"/><rect x="512" y="960" width="28" height="27"/><rect x="92" y="987" width="28" height="30"/></g>
<path fill="#575757" d="M625,902 L708,902 L708,930 L735,930 L735,960 L764,960 L764,1073 L738,1073 L738,1103 L710,1103 L710,1275 L682,1275 L682,1330 L655,1330 L655,1360 L628,1360 L628,1446 L598,1446 L598,1475 L262,1475 L262,1446 L290,1446 L290,1388 L262,1388 L262,1360 L290,1360 L290,1330 L262,1330 L262,1275 L232,1275 L232,1218 L290,1218 L290,1073 L318,1073 L318,1045 L400,1045 L400,1017 L455,1017 L455,987 L512,987 L512,1017 L568,1017 L568,960 L598,960 L598,930 L625,930 Z"/>
<g fill="#575757"><rect x="400" y="845" width="28" height="27"/><rect x="400" y="872" width="55" height="30"/><rect x="345" y="1017" width="27" height="28"/><rect x="203" y="987" width="29" height="30"/><rect x="176" y="1045" width="27" height="28"/></g>
<g fill="#000">
<rect x="427" y="758" width="28" height="57"/><rect x="850" y="1045" width="25" height="28"/><rect x="1075" y="1130" width="27" height="30"/><rect x="20" y="1245" width="16" height="30"/>
<path d="M1410,987 L1437,987 L1437,1017 L1495,1017 L1495,1188 L1467,1188 L1467,1218 L1437,1218 L1437,1245 L1408,1245 L1408,1275 L1380,1275 L1380,1330 L1352,1330 L1352,1360 L1330,1360 L1330,1388 L1270,1388 L1270,1360 L1298,1360 L1298,1218 L1325,1218 L1325,1130 L1352,1130 L1352,1045 L1380,1045 L1380,1017 L1410,1017 Z"/>
<path d="M793,1160 L848,1160 L848,1188 L877,1188 L877,1218 L850,1218 L850,1245 L793,1245 L793,1330 L822,1330 L822,1360 L765,1360 L765,1388 L710,1388 L710,1418 L682,1418 L682,1360 L710,1360 L710,1303 L738,1303 L738,1218 L765,1218 L765,1188 L793,1188 Z"/>
<path d="M877,1303 L905,1303 L905,1330 L962,1330 L962,1475 L852,1475 L852,1418 L877,1418 Z"/>
</g>
<g fill="none" stroke="#fff" stroke-width="2.5" stroke-linejoin="round">
<path d="M210,28 L222,118 L238,130 L247,230 L245,260 L218,268 L195,370 L178,452 L165,430 L165,380 L185,352 L152,350 L110,432 L82,432 L110,350 L130,310 L152,272 L150,245 L118,185 L130,115 L132,95"/>
<path d="M735,28 L740,45"/>
<path d="M775,28 L795,130 L820,190 L835,230 L870,270 L935,340 L942,375 L935,390 L865,395 L850,360 L845,310 L820,300 L795,305 L760,330 L726,352 L745,275 L720,230 L710,190 L695,150 L676,142"/>
<path d="M78,28 L110,45"/>
</g>
</svg>
<rect x="982" y="917" width="180" height="30" rx="4" fill="#000"/>
<text x="989" y="939" font-size="20.5" font-weight="bold" fill="#fff" textLength="165" lengthAdjust="spacingAndGlyphs">WMG Count: 0</text>
<rect x="970.5" y="903" width="750" height="750" fill="none" stroke="#000" stroke-width="2.5"/>
</svg>
</body></html>
